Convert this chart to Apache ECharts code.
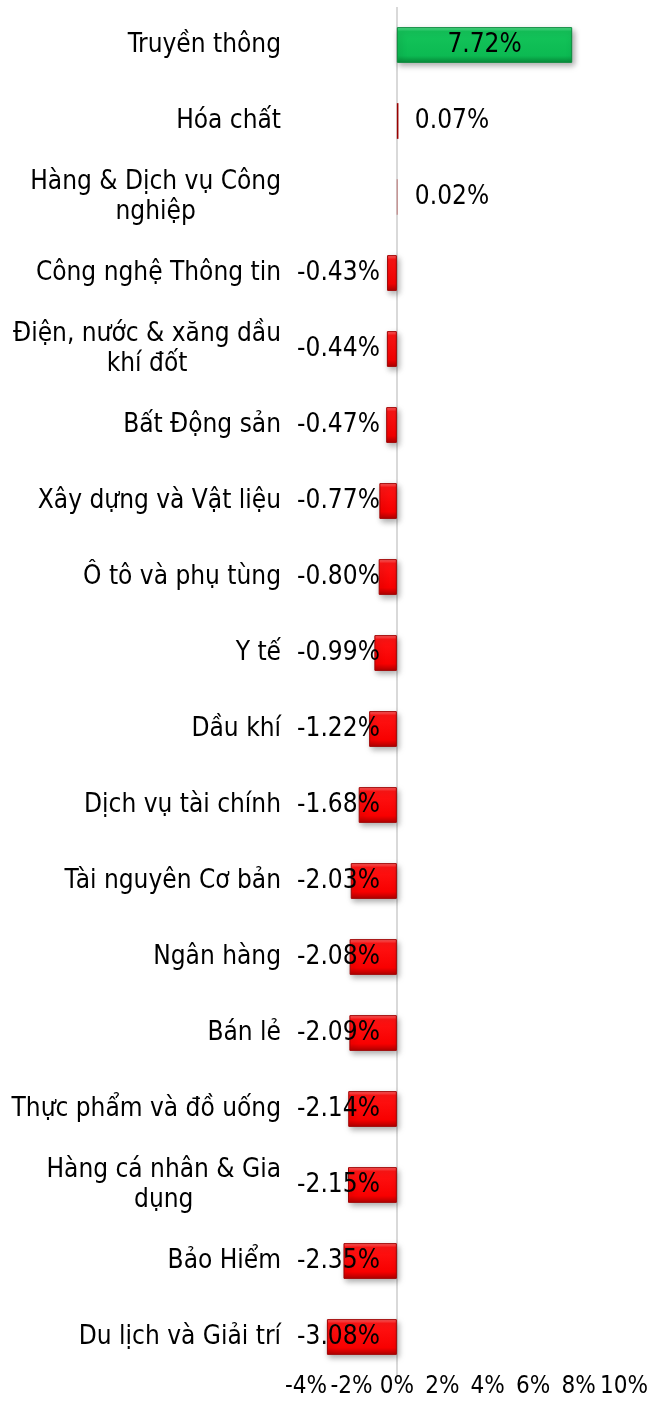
<!DOCTYPE html>
<html>
<head>
<meta charset="utf-8">
<script src="https://cdn.jsdelivr.net/npm/echarts@6/dist/echarts.min.js"></script>
<style>
html, body { margin: 0; padding: 0; background: #fff; }
#chart { width: 652px; height: 1423px; }
</style>
</head>
<body>
<div id="chart"></div>
<script>
var categories = ['Truyền thông', 'Hóa chất', 'Hàng & Dịch vụ Công\nnghiệp', 'Công nghệ Thông tin',
    'Điện, nước & xăng dầu\nkhí đốt', 'Bất Động sản', 'Xây dựng và Vật liệu', 'Ô tô và phụ tùng',
    'Y tế', 'Dầu khí', 'Dịch vụ tài chính', 'Tài nguyên Cơ bản', 'Ngân hàng', 'Bán lẻ',
    'Thực phẩm và đồ uống', 'Hàng cá nhân & Gia\ndụng', 'Bảo Hiểm', 'Du lịch và Giải trí'];
var values = [7.72, 0.07, 0.02, -0.43, -0.44, -0.47, -0.77, -0.80, -0.99, -1.22,
    -1.68, -2.03, -2.08, -2.09, -2.14, -2.15, -2.35, -3.08];
var tickMin = -4, tickMax = 10, tickStep = 2;

var FONT = '"DejaVu Sans Condensed", "Liberation Sans", sans-serif';
var FS = 26;

function draw_barchart(id){
    var myChart = echarts.init(document.getElementById(id));

    var redFill = new echarts.graphic.LinearGradient(0, 0, 0, 1, [
        {offset: 0, color: '#ff6a6a'},
        {offset: 0.12, color: '#ff1414'},
        {offset: 0.8, color: '#f80000'},
        {offset: 1, color: '#b00000'}
    ]);
    var greenFill = new echarts.graphic.LinearGradient(0, 0, 0, 1, [
        {offset: 0, color: '#5ae090'},
        {offset: 0.12, color: '#14c45a'},
        {offset: 0.8, color: '#0cba52'},
        {offset: 1, color: '#078a3a'}
    ]);

    var data = values.map(function (v) {
        var item = {value: v, itemStyle: {}};
        if (v > 1) {
            item.itemStyle.color = greenFill;
            item.itemStyle.borderColor = '#0a8a3c';
            item.label = {position: 'inside'};
        } else if (v > 0) {
            // tiny positive bars: plain dark red, no border or shadow
            item.itemStyle.color = '#9a0000';
            item.itemStyle.borderWidth = 0;
            item.itemStyle.shadowBlur = 0;
            item.itemStyle.shadowOffsetX = 0;
            item.itemStyle.shadowOffsetY = 0;
            item.label = {position: 'insideLeft', distance: 18};
        } else {
            item.itemStyle.color = redFill;
            item.itemStyle.borderColor = '#a00000';
            item.label = {position: 'insideRight', distance: 17};
        }
        return item;
    });

    var option = {
        animation: false,
        grid: {left: 306, right: 28, top: 7, bottom: 48, containLabel: false},
        xAxis: {
            type: 'value',
            min: tickMin,
            max: tickMax,
            interval: tickStep,
            axisLine: {show: false},
            axisTick: {show: false},
            splitLine: {show: false},
            axisLabel: {
                formatter: '{value}%',
                color: '#000',
                fontSize: 24,
                fontFamily: FONT,
                margin: 0,
                showMinLabel: true,
                showMaxLabel: true,
                hideOverlap: false
            }
        },
        yAxis: {
            type: 'category',
            inverse: true,
            data: categories,
            axisLine: {show: false, onZero: false},
            axisTick: {show: false},
            axisLabel: {
                color: '#000',
                fontSize: FS,
                fontFamily: FONT,
                margin: 25,
                lineHeight: 30,
                formatter: function (s) {
                    return s.split('\n').map(function (l) { return '{c|' + l + '}'; }).join('\n');
                },
                rich: {
                    c: {align: 'center', fontSize: FS, fontFamily: FONT, color: '#000', lineHeight: 30}
                }
            }
        },
        series: [{
            type: 'bar',
            data: data,
            barCategoryGap: '53%',
            itemStyle: {
                borderWidth: 1,
                shadowColor: 'rgba(0,0,0,0.35)',
                shadowBlur: 6,
                shadowOffsetX: 2,
                shadowOffsetY: 3
            },
            label: {
                show: true,
                color: '#000',
                fontSize: FS,
                fontFamily: FONT,
                formatter: function (p) { return p.value.toFixed(2) + '%'; }
            },
            markLine: {
                silent: true,
                symbol: 'none',
                z: 1,
                label: {show: false},
                lineStyle: {color: '#d9d9d9', width: 2, type: 'solid'},
                data: [{xAxis: 0}]
            },
            z: 3
        }]
    };
    myChart.setOption(option);
}

draw_barchart('chart');
</script>
</body>
</html>
